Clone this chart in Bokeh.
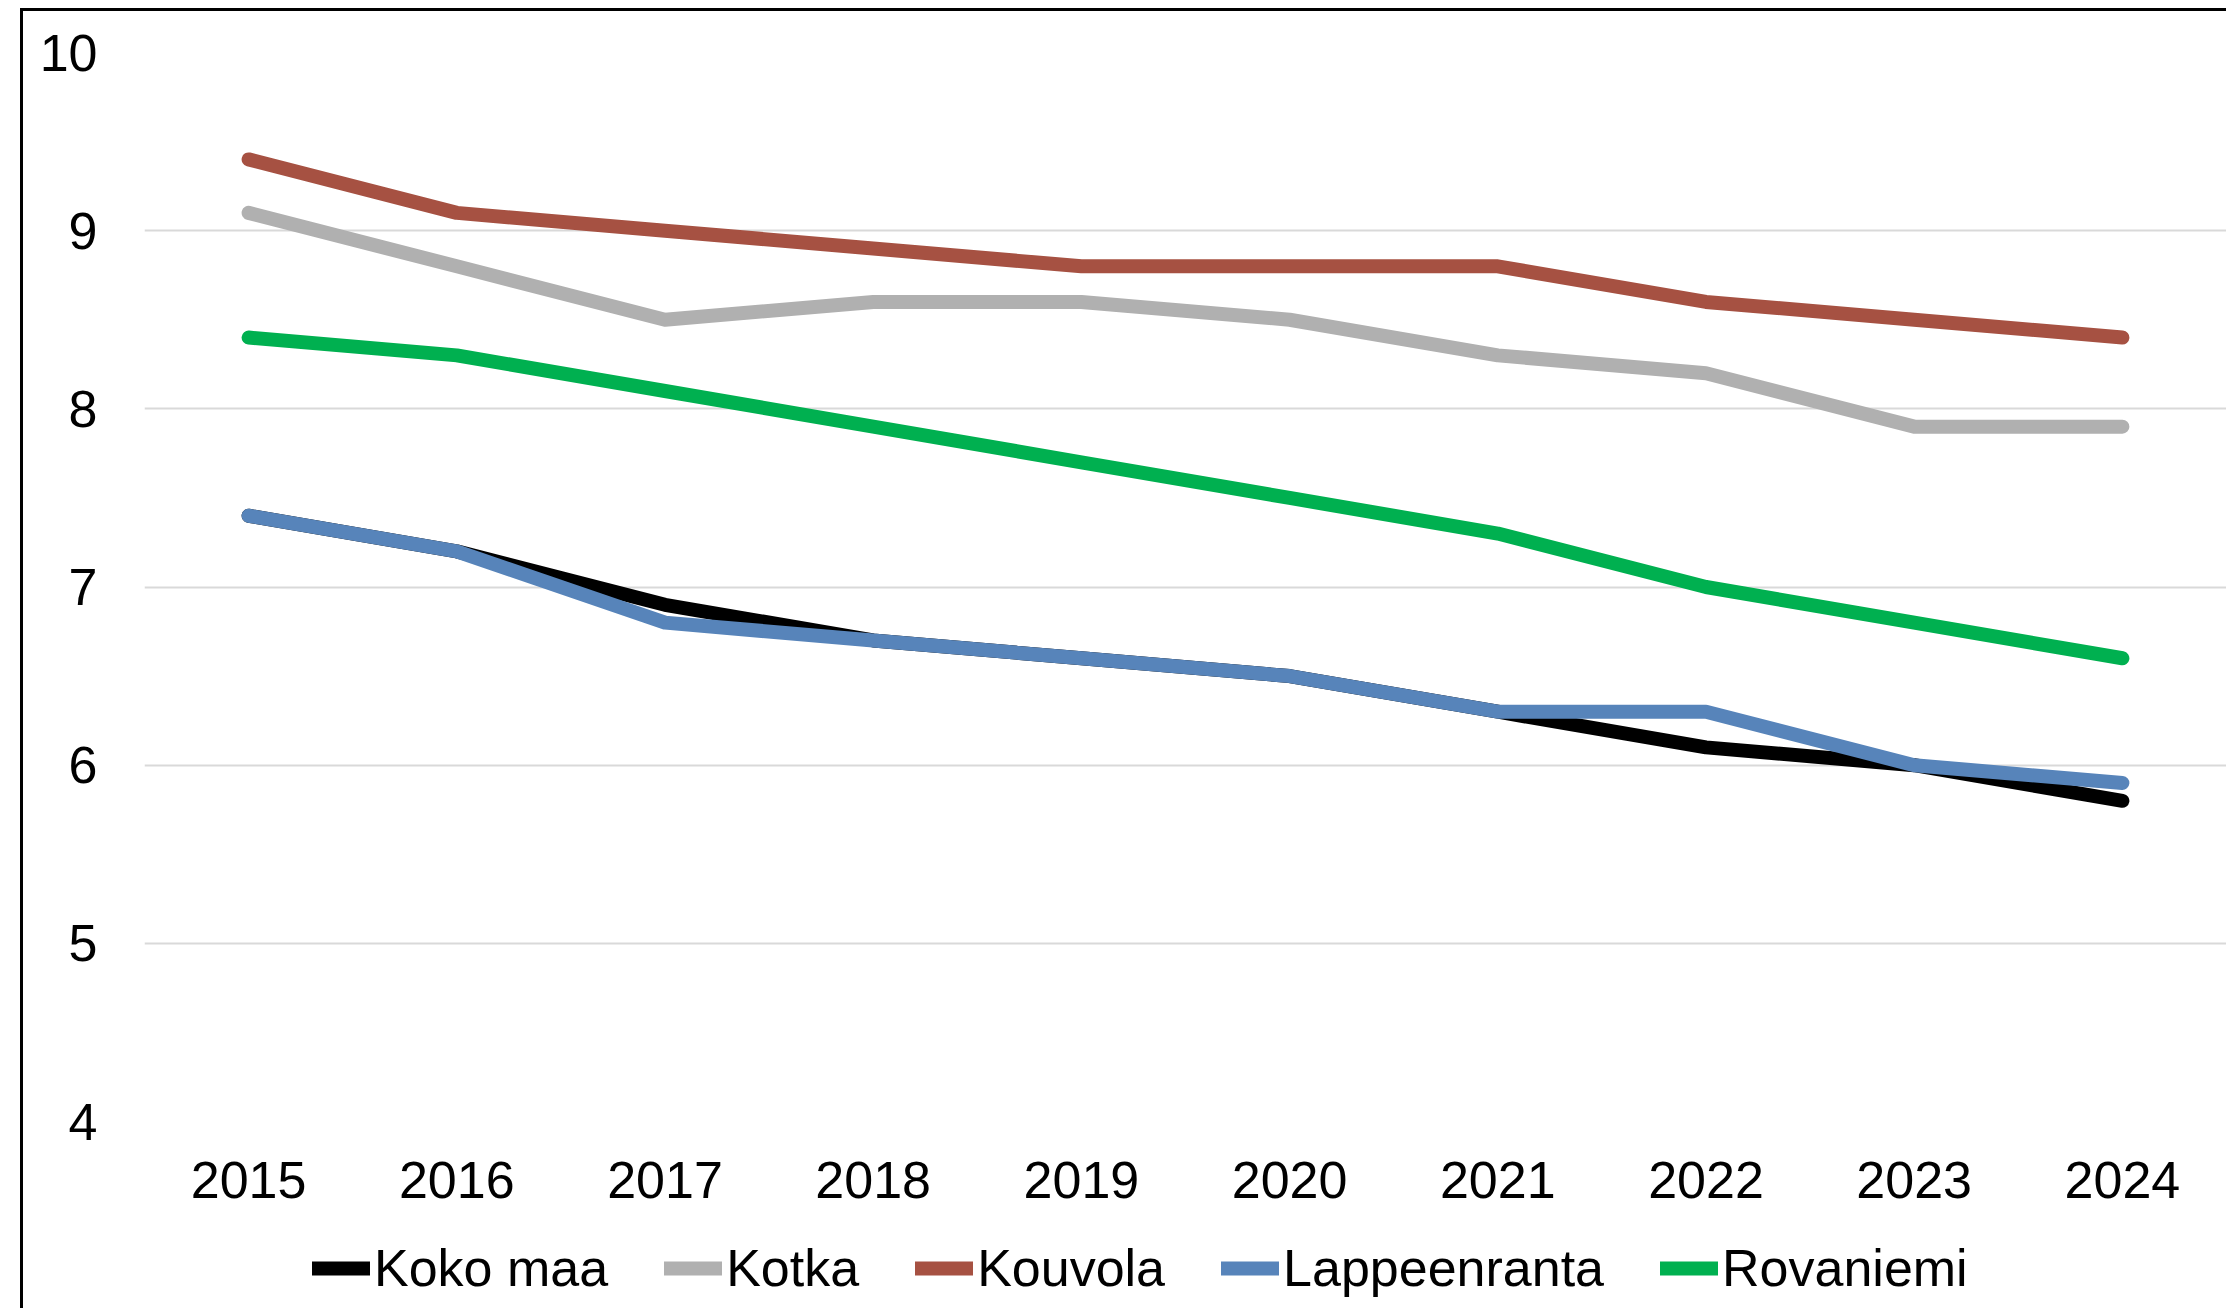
from bokeh.plotting import figure
from bokeh.models import FactorRange, FixedTicker, Legend, LegendItem, Range1d
from bokeh.layouts import column
from bokeh.embed import file_html
from bokeh.resources import INLINE

years = ["2015", "2016", "2017", "2018", "2019", "2020", "2021", "2022", "2023", "2024"]
koko_maa = [7.4, 7.2, 6.9, 6.7, 6.6, 6.5, 6.3, 6.1, 6.0, 5.8]
kotka = [9.1, 8.8, 8.5, 8.6, 8.6, 8.5, 8.3, 8.2, 7.9, 7.9]
kouvola = [9.4, 9.1, 9.0, 8.9, 8.8, 8.8, 8.8, 8.6, 8.5, 8.4]
lappeenranta = [7.4, 7.2, 6.8, 6.7, 6.6, 6.5, 6.3, 6.3, 6.0, 5.9]
rovaniemi = [8.4, 8.3, 8.1, 7.9, 7.7, 7.5, 7.3, 7.0, 6.8, 6.6]
y_ticks = [4, 5, 6, 7, 8, 9, 10]

series = [
    ("Koko maa", koko_maa, "#000000"),
    ("Kotka", kotka, "#B0B0B0"),
    ("Kouvola", kouvola, "#A65142"),
    ("Lappeenranta", lappeenranta, "#5784BA"),
    ("Rovaniemi", rovaniemi, "#00B050"),
]

FONT = "Liberation Sans"
FS = "52px"
LW = 14

p = figure(
    x_range=FactorRange(factors=years, range_padding=0),
    y_range=(4, 10),
    width=2203, height=1217,
    output_backend="svg", toolbar_location=None,
    min_border_left=121, min_border_right=0, min_border_top=41, min_border_bottom=107,
)
p.outline_line_color = None
p.background_fill_color = "white"
p.border_fill_color = "white"

for name, vals, col in series:
    p.line(years, vals, line_color=col, line_width=LW, line_cap="round", line_join="round")

p.xgrid.grid_line_color = None
p.ygrid.grid_line_color = "#D9D9D9"
p.ygrid.grid_line_width = 2

p.yaxis.ticker = FixedTicker(ticks=y_ticks)
for ax in (p.xaxis, p.yaxis):
    ax.axis_line_color = None
    ax.major_tick_line_color = None
    ax.minor_tick_line_color = None
    ax.major_tick_out = 0
    ax.major_tick_in = 0
    ax.major_label_text_font = FONT
    ax.major_label_text_font_size = FS
    ax.major_label_text_color = "black"
p.yaxis.major_label_standoff = 47
p.xaxis.major_label_standoff = 40

# legend strip below the chart (same series, drawn outside the visible range)
q = figure(
    x_range=FactorRange(factors=years, range_padding=0),
    y_range=Range1d(100, 101),
    width=2203, height=80,
    output_backend="svg", toolbar_location=None,
    min_border_left=0, min_border_right=0, min_border_top=0, min_border_bottom=0,
)
q.outline_line_color = None
q.axis.visible = False
q.grid.visible = False
q.background_fill_color = "white"
q.border_fill_color = "white"

items = []
for name, vals, col in series:
    r = q.line(years, vals, line_color=col, line_width=LW, line_cap="round", line_join="round")
    items.append(LegendItem(label=name, renderers=[r]))

legend = Legend(items=items, orientation="horizontal", location=(168, 10))
legend.border_line_color = None
legend.background_fill_alpha = 0
legend.label_text_font = FONT
legend.label_text_font_size = FS
legend.label_text_color = "black"
legend.glyph_width = 58
legend.glyph_height = 40
legend.label_standoff = 4
legend.spacing = 56
legend.padding = 0
legend.margin = 0
q.add_layout(legend, "center")

layout = column(p, q, spacing=0)
layout.styles = {"border-left": "3px solid black", "border-top": "3px solid black",
                 "margin-left": "20px", "margin-top": "8px"}

open("out.html", "w").write(file_html(layout, INLINE))
